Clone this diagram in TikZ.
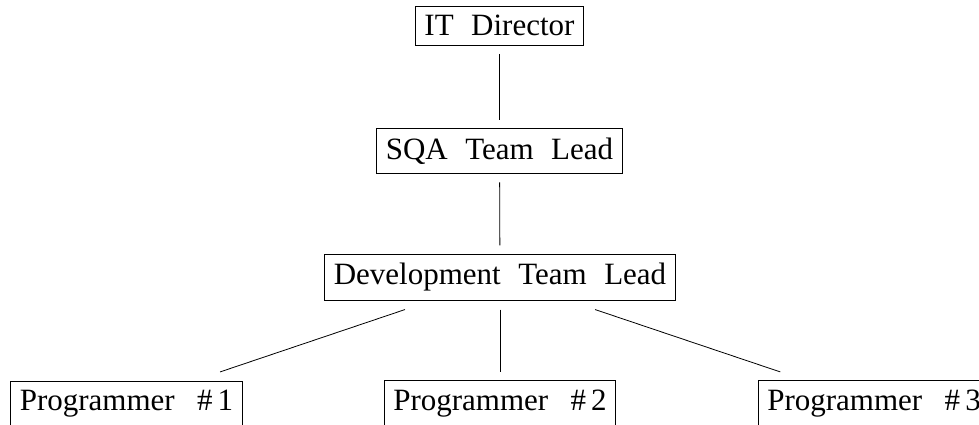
\documentclass[tikz,border=0pt]{standalone}
\usepackage{fontspec}
\setmainfont{Liberation Serif}
\newcommand\prnum[1]{\hspace{22.5pt}\#\kern5pt #1}
\tikzset{
  box/.style={draw, line width=0.8pt, inner xsep=9pt, inner ysep=9pt, outer sep=9pt,
    font={\fontsize{31}{37}\selectfont\spaceskip=17.5pt\relax}},
  link/.style={line width=0.8pt}
}
\begin{document}
\begin{tikzpicture}[x=1pt,y=-1pt]
\useasboundingbox (0,0) rectangle (979,425);
\node[box] (it) at (499.5,25.5) {IT Director};
\node[box] (sqa) at (499.5,151) {SQA Team Lead};
\node[box] (dev) at (500,277.5) {Development Team Lead};
\node[box] (p1) at (126.5,403.5) {Programmer\prnum{1}};
\node[box] (p2) at (500,403.5) {Programmer\prnum{2}};
\node[box] (p3) at (874,403.5) {Programmer\prnum{3}};
\draw[link] (it) -- (sqa);
\draw[link] (sqa) -- (dev);
\draw[link] (dev) -- (p1);
\draw[link] (dev) -- (p2);
\draw[link] (dev) -- (p3);
\end{tikzpicture}
\end{document}
